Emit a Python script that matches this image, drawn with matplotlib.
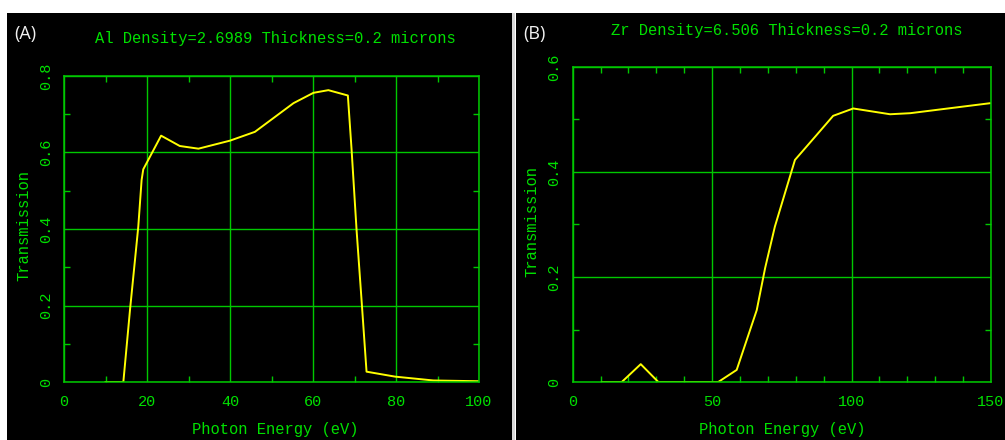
import matplotlib
matplotlib.use("Agg")
import matplotlib.pyplot as plt
from matplotlib.patches import Rectangle
from matplotlib.ticker import MultipleLocator, FuncFormatter

# ---- data ----
al_energy = [10, 14.3, 15.9, 17.9, 18.7, 19.1, 23.4, 27.9, 32.4, 40, 46, 55.3, 60.1, 63.7, 68.4,
             69.3, 70.5, 71.7, 72.9, 79.8, 89, 100]
al_trans = [0, 0, 0.188, 0.406, 0.528, 0.556, 0.644, 0.617, 0.610, 0.631, 0.654, 0.729, 0.756,
            0.763, 0.749, 0.607, 0.397, 0.214, 0.027, 0.014, 0.004, 0.002]

zr_energy = [10.4, 17.6, 24.4, 30.7, 48.6, 52.2, 58.8, 66, 69, 72.5, 79.7, 86.9, 93.4, 100.6,
             113.8, 121, 149.6]
zr_trans = [0, 0, 0.034, 0, 0, 0, 0.023, 0.137, 0.217, 0.296, 0.423, 0.467, 0.507, 0.521,
            0.510, 0.512, 0.531]

titles = ["Al Density=2.6989 Thickness=0.2 microns", "Zr Density=6.506 Thickness=0.2 microns"]
panel_labels = ["(A)", "(B)"]
xlabel = "Photon Energy (eV)"
ylabel = "Transmission"

W, H = 1005, 440
GRID = "#00c800"
TXT = "#00e000"
FONT = "Liberation Mono"

fig = plt.figure(figsize=(W / 100, H / 100), dpi=100, facecolor="white")

# black panel backgrounds
fig.add_artist(Rectangle((7 / W, 0), (512 - 7) / W, (H - 13) / H, transform=fig.transFigure,
                         facecolor="black", edgecolor="none", zorder=0))
fig.add_artist(Rectangle((516 / W, 0), (W - 516) / W, (H - 13) / H, transform=fig.transFigure,
                         facecolor="black", edgecolor="none", zorder=0))
fig.add_artist(Rectangle((512 / W, 0), 3 / W, (H - 13) / H, transform=fig.transFigure,
                         facecolor="#d8d8d8", edgecolor="none", zorder=0))


def yfmt(v, pos):
    return "0" if abs(v) < 1e-9 else f"{v:.1f}"


def setup(ax, xmax, ymax, ticks_x, ticks_y):
    ax.set_facecolor("black")
    ax.set_xlim(0, xmax)
    ax.set_ylim(0, ymax)
    ax.xaxis.set_major_locator(MultipleLocator(ticks_x))
    ax.xaxis.set_minor_locator(MultipleLocator(10))
    ax.yaxis.set_major_locator(MultipleLocator(ticks_y))
    ax.yaxis.set_minor_locator(MultipleLocator(0.1))
    ax.yaxis.set_major_formatter(FuncFormatter(yfmt))
    for s in ax.spines.values():
        s.set_color(GRID)
        s.set_linewidth(1.1)
    ax.grid(True, which="major", color=GRID, linewidth=1.0)
    ax.tick_params(which="both", direction="in", top=True, right=True, color=GRID,
                   labelcolor=TXT, labelsize=11)
    ax.tick_params(which="major", length=0)
    ax.tick_params(which="minor", length=4, width=1)
    ax.tick_params(axis="x", which="major", pad=9)
    ax.tick_params(axis="y", which="major", pad=8)
    for lab in ax.get_xticklabels():
        lab.set_fontfamily(FONT)
    for lab in ax.get_yticklabels():
        lab.set_fontfamily(FONT)
        lab.set_rotation(90)
        lab.set_va("center")
        lab.set_ha("right")
    ax.set_xlabel(xlabel, color=TXT, fontsize=11.2, fontfamily=FONT)
    ax.set_ylabel(ylabel, color=TXT, fontsize=11.2, fontfamily=FONT)


ax1 = fig.add_axes([64 / W, 58 / H, 415 / W, 306 / H])
setup(ax1, 100, 0.8, 20, 0.2)
ax1.plot(al_energy, al_trans, color="#ffff00", linewidth=1.4)
ax1.xaxis.set_label_coords(0.51, -0.155)
ax1.yaxis.set_label_coords(-0.096, 0.51)
ax1.xaxis.label.set_va("center")
ax1.yaxis.label.set_va("center")

ax2 = fig.add_axes([572.7 / W, 58 / H, 418.3 / W, 315 / H])
setup(ax2, 150, 0.6, 50, 0.2)
ax2.plot(zr_energy, zr_trans, color="#ffff00", linewidth=1.4)
ax2.xaxis.set_label_coords(0.5, -0.15)
ax2.yaxis.set_label_coords(-0.097, 0.51)
ax2.xaxis.label.set_va("center")
ax2.yaxis.label.set_va("center")

fig.text(275 / W, 1 - 38 / H, titles[0], color=TXT, fontsize=11.2, fontfamily=FONT,
         ha="center", va="center")
fig.text(787 / W, 1 - 30 / H, titles[1], color=TXT, fontsize=11.2, fontfamily=FONT,
         ha="center", va="center")
fig.text(14 / W, 1 - 34 / H, panel_labels[0], color="#f0f0f0", fontsize=13,
         fontfamily="Open Sans", ha="left", va="center")
fig.text(523 / W, 1 - 34 / H, panel_labels[1], color="#f0f0f0", fontsize=13,
         fontfamily="Open Sans", ha="left", va="center")

fig.savefig("out.png", dpi=100, facecolor="white")
